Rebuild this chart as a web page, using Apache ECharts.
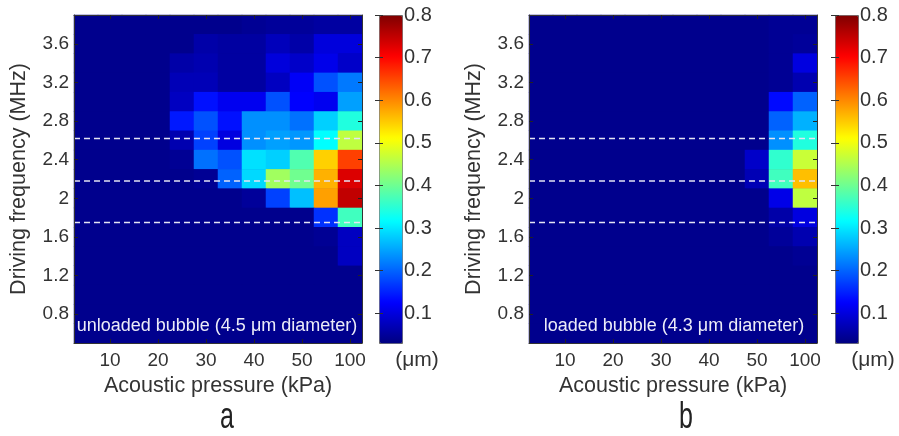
<!DOCTYPE html>
<html><head><meta charset="utf-8">
<script src="https://cdn.jsdelivr.net/npm/echarts@6/dist/echarts.min.js"></script>
<style>html,body{margin:0;padding:0;background:#fff}#c{width:899px;height:436px}</style>
</head><body><div id="c"></div>
<script>
// x categories (acoustic pressure, kPa) – only every other cell is labelled in the figure
const pressureLabels = ['', '10', '', '20', '', '30', '', '40', '', '50', '', '100'];
// y categories (driving frequency, MHz), bottom to top
const frequencyLabels = ['0.6','0.8','1','1.2','1.4','1.6','1.8','2','2.2','2.4','2.6','2.8','3','3.2','3.4','3.6','3.8'];
const colorbarTicks = [0.1, 0.2, 0.3, 0.4, 0.5, 0.6, 0.7, 0.8];
const colorMin = 0.03, colorMax = 0.8;
const dashedLevels = [2.62, 2.18, 1.75];
const panelTitles = ['unloaded bubble (4.5 μm diameter)', 'loaded bubble (4.3 μm diameter)'];
const panelLetters = ['a', 'b'];

// rows listed from top (3.8 MHz) to bottom (0.6 MHz), 12 pressure columns each (µm)
const unloadedRows = [
  [0.04,0.04,0.04,0.04,0.04,0.04,0.04,0.045,0.05,0.05,0.055,0.055],
  [0.04,0.04,0.04,0.04,0.04,0.06,0.055,0.055,0.075,0.06,0.10,0.10],
  [0.04,0.04,0.04,0.04,0.06,0.066,0.055,0.055,0.10,0.085,0.11,0.085],
  [0.04,0.04,0.04,0.04,0.072,0.072,0.055,0.055,0.079,0.12,0.187,0.217],
  [0.04,0.04,0.04,0.04,0.079,0.138,0.115,0.115,0.187,0.126,0.115,0.247],
  [0.04,0.04,0.04,0.04,0.144,0.187,0.138,0.235,0.235,0.211,0.283,0.343],
  [0.04,0.04,0.04,0.04,0.066,0.175,0.103,0.235,0.247,0.24,0.319,0.463],
  [0.04,0.04,0.04,0.04,0.045,0.211,0.187,0.296,0.283,0.379,0.547,0.656],
  [0.04,0.04,0.04,0.04,0.04,0.045,0.20,0.29,0.44,0.403,0.57,0.73],
  [0.04,0.04,0.04,0.04,0.04,0.04,0.04,0.05,0.175,0.271,0.583,0.751],
  [0.04,0.04,0.04,0.04,0.04,0.04,0.04,0.04,0.04,0.04,0.163,0.367],
  [0.04,0.04,0.04,0.04,0.04,0.04,0.04,0.04,0.04,0.04,0.045,0.079],
  [0.04,0.04,0.04,0.04,0.04,0.04,0.04,0.04,0.04,0.04,0.04,0.079],
  [0.04,0.04,0.04,0.04,0.04,0.04,0.04,0.04,0.04,0.04,0.04,0.04],
  [0.04,0.04,0.04,0.04,0.04,0.04,0.04,0.04,0.04,0.04,0.04,0.04],
  [0.04,0.04,0.04,0.04,0.04,0.04,0.04,0.04,0.04,0.04,0.04,0.04],
  [0.04,0.04,0.04,0.04,0.04,0.04,0.04,0.04,0.04,0.04,0.04,0.04]
];
const loadedRows = [
  [0.04,0.04,0.04,0.04,0.04,0.04,0.04,0.04,0.04,0.04,0.045,0.045],
  [0.04,0.04,0.04,0.04,0.04,0.04,0.04,0.04,0.04,0.04,0.045,0.05],
  [0.04,0.04,0.04,0.04,0.04,0.04,0.04,0.04,0.04,0.04,0.045,0.103],
  [0.04,0.04,0.04,0.04,0.04,0.04,0.04,0.04,0.04,0.04,0.045,0.066],
  [0.04,0.04,0.04,0.04,0.04,0.04,0.04,0.04,0.04,0.04,0.133,0.20],
  [0.04,0.04,0.04,0.04,0.04,0.04,0.04,0.04,0.04,0.04,0.20,0.26],
  [0.04,0.04,0.04,0.04,0.04,0.04,0.04,0.04,0.04,0.04,0.235,0.343],
  [0.04,0.04,0.04,0.04,0.04,0.04,0.04,0.04,0.04,0.085,0.355,0.47],
  [0.04,0.04,0.04,0.04,0.04,0.04,0.04,0.04,0.04,0.07,0.367,0.56],
  [0.04,0.04,0.04,0.04,0.04,0.04,0.04,0.04,0.04,0.04,0.109,0.463],
  [0.04,0.04,0.04,0.04,0.04,0.04,0.04,0.04,0.04,0.04,0.06,0.103],
  [0.04,0.04,0.04,0.04,0.04,0.04,0.04,0.04,0.04,0.04,0.05,0.066],
  [0.04,0.04,0.04,0.04,0.04,0.04,0.04,0.04,0.04,0.04,0.04,0.045],
  [0.04,0.04,0.04,0.04,0.04,0.04,0.04,0.04,0.04,0.04,0.04,0.04],
  [0.04,0.04,0.04,0.04,0.04,0.04,0.04,0.04,0.04,0.04,0.04,0.04],
  [0.04,0.04,0.04,0.04,0.04,0.04,0.04,0.04,0.04,0.04,0.04,0.04],
  [0.04,0.04,0.04,0.04,0.04,0.04,0.04,0.04,0.04,0.04,0.04,0.04]
];

const jet = ['#000080','#0000FF','#0080FF','#00FFFF','#80FF80','#FFFF00','#FF8000','#FF0000','#800000'];
const FONT = '"Liberation Sans", Arial, sans-serif';
const TXT = '#333';
const NAVY = '#00008D';

function toCells(rows) {
  const out = [];
  const n = rows.length;
  rows.forEach((row, r) => row.forEach((v, c) => out.push([c, n - 1 - r, v])));
  return out;
}
const odd = (i) => i % 2 === 1;

const layout = [
  { plotLeft: 74, barLeft: 379, unitX: 417, letterX: 227 },
  { plotLeft: 529, barLeft: 835, unitX: 873, letterX: 686 }
];
const TOP = 15, W = 288, H = 328;

const grid = [], xAxis = [], yAxis = [], series = [], visualMap = [], graphic = [];
const datasets = [unloadedRows, loadedRows];

layout.forEach((p) => {
  grid.push({ left: p.plotLeft, top: TOP, width: W, height: H, containLabel: false, outerBoundsMode: 'none',
    show: true, backgroundColor: NAVY, borderWidth: 0 });
});
layout.forEach((p) => {
  grid.push({ left: p.barLeft, top: TOP, width: 23, height: H, containLabel: false, outerBoundsMode: 'none' });
});

layout.forEach((p, k) => {
  const lineSt = { color: '#333', width: 1 };
  const tick = { show: true, inside: true, alignWithLabel: true, interval: odd, length: 4, lineStyle: { color: '#222' } };
  xAxis.push({
    gridIndex: k, type: 'category', data: pressureLabels, position: 'bottom', z: 10,
    axisLine: { show: true, lineStyle: lineSt }, axisTick: tick,
    axisLabel: { interval: 0, fontSize: 19, color: TXT, margin: 8, fontFamily: FONT },
    splitLine: { show: false },
    name: 'Acoustic pressure (kPa)', nameLocation: 'middle', nameGap: 27,
    nameTextStyle: { fontSize: 21.5, color: TXT, fontFamily: FONT }
  });
  xAxis.push({
    gridIndex: k, type: 'category', data: pressureLabels, position: 'top', z: 10,
    axisLine: { show: true, lineStyle: lineSt }, axisTick: tick,
    axisLabel: { show: false }, splitLine: { show: false }
  });
  xAxis.push({ gridIndex: k, type: 'value', min: 0, max: 1, show: false });

  yAxis.push({
    gridIndex: k, type: 'category', data: frequencyLabels, position: 'left', z: 10,
    axisLine: { show: true, lineStyle: lineSt }, axisTick: tick,
    axisLabel: { interval: odd, fontSize: 19, color: TXT, margin: 5, fontFamily: FONT },
    splitLine: { show: false },
    name: 'Driving frequency (MHz)', nameLocation: 'middle', nameGap: 44,
    nameTextStyle: { fontSize: 21.5, color: TXT, fontFamily: FONT }
  });
  yAxis.push({
    gridIndex: k, type: 'category', data: frequencyLabels, position: 'right', z: 10,
    axisLine: { show: true, lineStyle: lineSt }, axisTick: tick,
    axisLabel: { show: false }, splitLine: { show: false }
  });
  yAxis.push({ gridIndex: k, type: 'value', min: 0.5, max: 3.9, show: false });
});

layout.forEach((p, k) => {
  const g = 2 + k;
  xAxis.push({ gridIndex: g, type: 'value', show: false, min: 0, max: 1 });
  yAxis.push({
    gridIndex: g, type: 'value', min: colorMin, max: colorMax, position: 'right', z: 10,
    axisLine: { show: false },
    axisTick: { show: true, inside: true, length: 4, customValues: colorbarTicks, lineStyle: { color: '#333' } },
    axisLabel: { show: true, customValues: colorbarTicks, fontSize: 20, color: TXT, margin: 2, fontFamily: FONT },
    splitLine: { show: false }
  });
  yAxis.push({
    gridIndex: g, type: 'value', min: colorMin, max: colorMax, position: 'left', z: 10,
    axisLine: { show: false },
    axisTick: { show: true, inside: true, length: 4, customValues: colorbarTicks, lineStyle: { color: '#333' } },
    axisLabel: { show: false }, splitLine: { show: false }
  });
});

// heatmaps
datasets.forEach((rows, k) => {
  series.push({
    type: 'heatmap', xAxisIndex: k * 3, yAxisIndex: k * 3,
    data: toCells(rows), emphasis: { disabled: true }, progressive: 0
  });
});
// dashed reference lines
datasets.forEach((rows, k) => {
  dashedLevels.forEach((lv) => {
    series.push({
      type: 'line', xAxisIndex: k * 3 + 2, yAxisIndex: k * 3 + 2, z: 5,
      data: [[0, lv], [1, lv]], symbol: 'none', silent: true,
      lineStyle: { color: '#e4e4f4', width: 1.5, type: [6, 4] }
    });
  });
});

layout.forEach((p, k) => {
  visualMap.push({
    type: 'continuous', seriesIndex: k, min: colorMin, max: colorMax,
    calculable: false, hoverLink: false, orient: 'vertical',
    left: p.barLeft, top: TOP, itemWidth: 23, itemHeight: H, padding: 0,
    text: null, borderColor: '#666', borderWidth: 1,
    inRange: { color: jet }
  });
  graphic.push({
    type: 'text', x: (p.plotLeft + W / 2) + (k === 0 ? -1 : 1), y: 326, z: 100,
    style: { text: panelTitles[k], fill: '#ececf8', font: '18px ' + FONT, align: 'center', verticalAlign: 'middle' }
  });
  graphic.push({
    type: 'text', x: p.unitX, y: 360, z: 100,
    style: { text: '(μm)', fill: TXT, font: '21px ' + FONT, align: 'center', verticalAlign: 'middle' }
  });
  graphic.push({
    type: 'text', x: p.letterX, y: 418, z: 100, scaleY: 1.5,
    style: { text: panelLetters[k], fill: '#222', font: '25px ' + FONT, align: 'center', verticalAlign: 'middle' }
  });
});

const chart = echarts.init(document.getElementById('c'), null, { renderer: 'canvas' });
chart.setOption({
  animation: false,
  backgroundColor: '#fff',
  textStyle: { fontFamily: FONT },
  grid, xAxis, yAxis, series, visualMap, graphic
});
</script>
</body></html>
